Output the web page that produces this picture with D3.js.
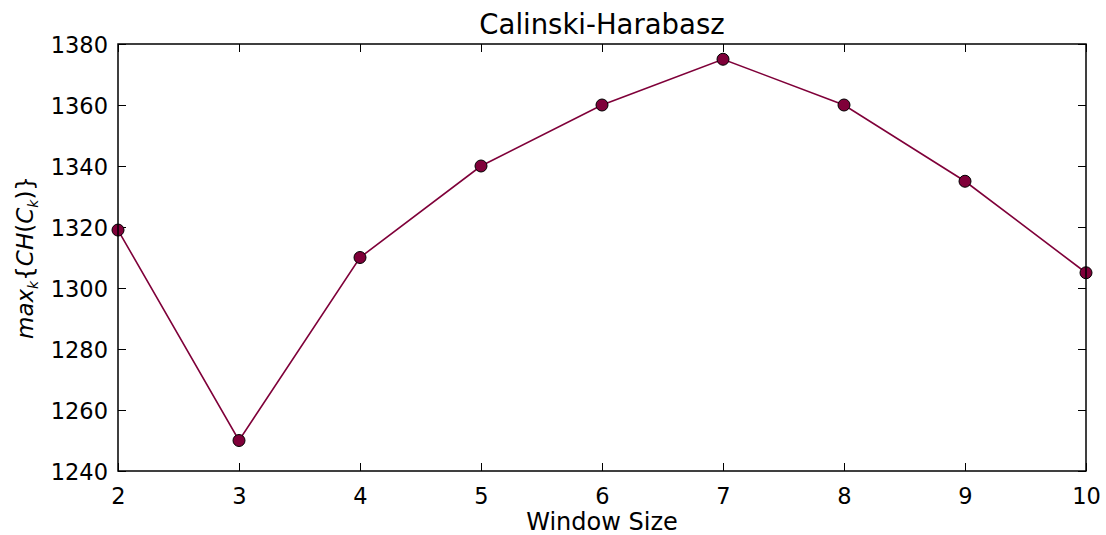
<!DOCTYPE html>
<html>
<head>
<meta charset="utf-8">
<script src="https://cdn.jsdelivr.net/npm/d3@7"></script>
<style>
  body { margin: 0; background: #fff; }
  text { font-family: "DejaVu Sans", sans-serif; }
</style>
</head>
<body>
<svg id="chart" width="1106" height="535"></svg>
<script>
// window sizes and best CH score for each
var windowSizes = [2, 3, 4, 5, 6, 7, 8, 9, 10];
var chScores = [1319, 1250, 1310, 1340, 1360, 1375, 1360, 1335, 1305];
var yTicks = [1240, 1260, 1280, 1300, 1320, 1340, 1360, 1380];

var svg = d3.select('#chart');
var margin = {left: 118, top: 44, right: 20, bottom: 64};
var w = 1106 - margin.left - margin.right,
    h = 535 - margin.top - margin.bottom;

var x = d3.scaleLinear().domain([2, 10]).range([0, w]);
var y = d3.scaleLinear().domain([1240, 1380]).range([h, 0]);

var g = svg.append('g').attr('transform', 'translate(' + margin.left + ',' + margin.top + ')');

// matplotlib classic style: ticks point inward, on all four sides
function styleAxis(sel) {
    sel.select('.domain').remove();
    sel.selectAll('.tick line').attr('stroke', '#000').attr('stroke-width', 1);
    sel.selectAll('.tick text').attr('font-size', 22.5).attr('fill', '#000').attr('dy', null);
}

g.append('g').attr('transform', 'translate(0,' + h + ')')
    .call(d3.axisBottom(x).tickValues(windowSizes).tickFormat(d3.format('d')).tickSizeInner(-8).tickPadding(16))
    .call(styleAxis)
    .selectAll('.tick text').attr('dominant-baseline', 'hanging');
g.append('g')
    .call(d3.axisTop(x).tickValues(windowSizes).tickSizeInner(-8).tickFormat(''))
    .call(styleAxis);
g.append('g')
    .call(d3.axisLeft(y).tickValues(yTicks).tickFormat(d3.format('d')).tickSizeInner(-8).tickPadding(10))
    .call(styleAxis)
    .selectAll('.tick text').attr('dominant-baseline', 'central');
g.append('g').attr('transform', 'translate(' + w + ',0)')
    .call(d3.axisRight(y).tickValues(yTicks).tickSizeInner(-8).tickFormat(''))
    .call(styleAxis);

var line = d3.line()
    .x(function (d, i) { return x(windowSizes[i]); })
    .y(function (d) { return y(d); });

g.append('path').datum(chScores)
    .attr('d', line)
    .attr('fill', 'none')
    .attr('stroke', '#7f0039')
    .attr('stroke-width', 1.6);

g.selectAll('circle.pt').data(chScores).enter().append('circle')
    .attr('class', 'pt')
    .attr('cx', function (d, i) { return x(windowSizes[i]); })
    .attr('cy', function (d) { return y(d); })
    .attr('r', 6)
    .attr('fill', '#7f0039')
    .attr('stroke', '#000')
    .attr('stroke-width', 1);

// frame
g.append('rect').attr('width', w).attr('height', h)
    .attr('fill', 'none').attr('stroke', '#000').attr('stroke-width', 1.5);

svg.append('text')
    .attr('x', margin.left + w / 2).attr('y', 34)
    .attr('text-anchor', 'middle').attr('font-size', 27.5)
    .text('Calinski-Harabasz');

svg.append('text')
    .attr('x', margin.left + w / 2).attr('y', 530)
    .attr('text-anchor', 'middle').attr('font-size', 24)
    .text('Window Size');

var yl = svg.append('text')
    .attr('transform', 'translate(33,' + (margin.top + h / 2) + ') rotate(-90)')
    .attr('text-anchor', 'middle')
    .attr('font-family', '"DejaVu Serif", serif')
    .attr('font-style', 'italic')
    .attr('font-size', 23);
yl.append('tspan').text('max');
yl.append('tspan').attr('font-size', 14).attr('dy', 5).text('k');
yl.append('tspan').attr('dy', -5).attr('font-style', 'normal').text('{');
yl.append('tspan').text('CH');
yl.append('tspan').attr('font-style', 'normal').text('(');
yl.append('tspan').text('C');
yl.append('tspan').attr('font-size', 14).attr('dy', 5).text('k');
yl.append('tspan').attr('dy', -5).attr('font-style', 'normal').text(')}');
</script>
</body>
</html>
